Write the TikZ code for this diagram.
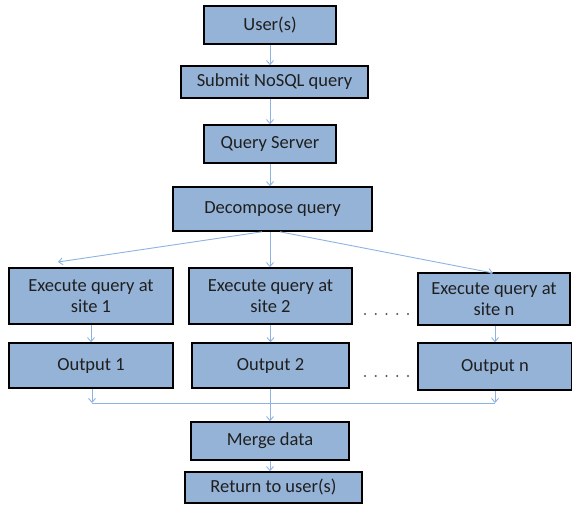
\documentclass[tikz,border=0pt]{standalone}
\usepackage{fontspec}
\setmainfont{Carlito}
\usetikzlibrary{arrows.meta}
\definecolor{boxfill}{HTML}{95B3D7}
\definecolor{flow}{HTML}{8DB3E2}
\definecolor{dotgray}{HTML}{555555}
\begin{document}
\begin{tikzpicture}[x=1pt,y=-1pt,
  box/.style={draw=black,fill=boxfill,line width=1.6pt,inner sep=0pt,
    align=center,font=\fontsize{18.5}{21}\selectfont,text=black!88},
  link/.style={draw=flow,line width=0.9pt,-{Straight Barb[length=4pt,width=7pt]}},
  plain/.style={draw=flow,line width=0.9pt}]
\useasboundingbox (0,0) rectangle (572,504);
% stacked boxes
\node[box,minimum width=132pt,minimum height=38pt] (user) at (270,25) {User(s)};
\node[box,minimum width=187pt,minimum height=32pt] (submit) at (274.5,82) {Submit NoSQL query};
\node[box,minimum width=132pt,minimum height=38pt] (server) at (270,144) {Query Server};
\node[box,minimum width=199pt,minimum height=44pt] (decomp) at (272.5,209) {Decompose query};
% per-site execution
\node[box,minimum width=164pt,minimum height=56pt] (ex1) at (91,296) {Execute query at\\site 1};
\node[box,minimum width=163pt,minimum height=56pt] (ex2) at (270.5,296) {Execute query at\\site 2};
\node[box,minimum width=152pt,minimum height=52pt] (exn) at (494,299) {Execute query at\\site n};
\node[box,minimum width=164pt,minimum height=45pt] (out1) at (91,365.5) {Output 1};
\node[box,minimum width=157pt,minimum height=45pt] (out2) at (270.5,365.5) {Output 2};
\node[box,minimum width=154pt,minimum height=47pt] (outn) at (495,366.5) {Output n};
% merging
\node[box,minimum width=158pt,minimum height=38pt] (merge) at (270,441) {Merge data};
\node[box,minimum width=177pt,minimum height=31pt] (ret) at (273.5,487.5) {Return to user(s)};
% ellipsis between site 2 and site n
\foreach \yy in {314,376} \foreach \xx in {365,375.75,386.5,397.25,408}
  \fill[dotgray] (\xx,\yy) circle (1.2pt);
% vertical chain
\draw[link] (user.south -| 270,0) -- (submit.north -| 270,0);
\draw[link] (submit.south -| 270,0) -- (server.north -| 270,0);
\draw[link] (server.south -| 270,0) -- (decomp.north -| 270,0);
% fan-out
\coordinate (t1) at (58,262);
\coordinate (tn) at (493,273);
\draw[link] (decomp.south -| 262,0) -- (t1);
\draw[link] (decomp.south -| 270,0) -- (ex2.north -| 270,0);
\draw[link] (decomp.south -| 280,0) -- (tn);
\draw[link] (ex1) -- (out1);
\draw[link] (ex2) -- (out2);
\draw[link] (exn.south -| 495,0) -- (outn.north -| 495,0);
% fan-in
\coordinate (m1) at (92,403);
\coordinate (mn) at (495,403);
\draw[plain] (m1) -- (mn);
\draw[link] (out1.south -| 92,0) -- (m1);
\draw[link] (outn.south -| 495,0) -- (mn);
\draw[link] (out2.south -| 270,0) -- (merge.north -| 270,0);
\draw[link] (merge.south -| 270,0) -- (ret.north -| 270,0);
\end{tikzpicture}
\end{document}
